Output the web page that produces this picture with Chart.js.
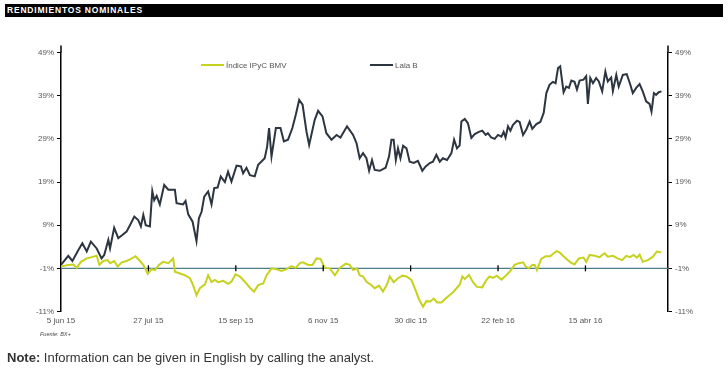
<!DOCTYPE html>
<html>
<head>
<meta charset="utf-8">
<script src="https://cdn.jsdelivr.net/npm/chart.js@4.4.1/dist/chart.umd.min.js"></script>
<style>
  body { margin: 0; width: 728px; height: 376px; background: #fff; position: relative; overflow: hidden;
         font-family: "Liberation Sans", Arial, sans-serif; }
  #title { position: absolute; left: 5px; top: 4px; width: 718px; height: 13px; background: #000; color: #fff;
           font-weight: bold; font-size: 8.5px; letter-spacing: 0.8px; line-height: 13px; padding-left: 2px; box-sizing: border-box; }
  #chart { position: absolute; left: 0; top: 0; }
  .leg { position: absolute; top: 61px; font-size: 8px; line-height: 10px; color: #555; white-space: nowrap; }
  .leg i { display: inline-block; width: 23px; height: 2px; vertical-align: middle; margin-right: 2px; position: relative; top: -1px; }
  #source { position: absolute; left: 40px; top: 331px; font-size: 5.5px; font-style: italic; color: #444; }
  #note { position: absolute; left: 7px; top: 351px; font-size: 13px; line-height: 14px; color: #333; }
</style>
</head>
<body>
<div id="title">RENDIMIENTOS NOMINALES</div>
<canvas id="chart" width="728" height="345"></canvas>
<div class="leg" style="left:201px"><i style="background:#c6d21e"></i>Índice IPyC BMV</div>
<div class="leg" style="left:370px"><i style="background:#2c3540"></i>Lala B</div>
<div id="source">Fuente: BX+</div>
<div id="note"><b>Note:</b> Information can be given in English by calling the analyst.</div>

<script>
// x = trading days since 5 jun 15, y = nominal return in %
const tickDays = [0, 36, 72, 108, 144, 180, 216];
const tickLabels = ["5 jun 15", "27 jul 15", "15 sep 15", "6 nov 15", "30 dic 15", "22 feb 16", "15 abr 16"];
const yTicks = [-11, -1, 9, 19, 29, 39, 49];

const lalaDays = [
  0, 3, 4.7, 7.1, 8.8, 10.6, 12.3, 14.7, 16.7, 17.8,
  19.5, 20.2, 21.9, 23.6, 25, 27, 28.4, 30.2, 31.8, 32.9,
  33.9, 34.9, 36.6, 37.6, 38.4, 39.4, 40.7, 42.5, 44.2, 46.9,
  47.6, 50.3, 51.3, 52.4, 54.2, 55.8, 56.8, 57.9, 59, 60.6,
  62, 63.1, 64.5, 65.8, 67.5, 68.8, 70.2, 72.3, 74.1, 75,
  76.4, 77.8, 79.8, 81.2, 83.9, 84.9, 85.7, 86.7, 88.5, 90.4,
  91.8, 93.5, 95.3, 96.7, 98.1, 99.5, 101.1, 102.2, 104.5, 105.9,
  107.7, 109.3, 111.4, 113.5, 115.1, 117.8, 120.3, 121.7, 123, 124.4,
  125.8, 126.9, 128.1, 129.2, 131.3, 133.7, 135.1, 136.1, 137, 137.9,
  138.8, 139.8, 140.9, 142.3, 143.6, 145.3, 147, 148.8, 150.2, 151.9,
  153.2, 154.6, 156, 157.3, 159, 160.8, 161.9, 163.1, 164.2, 164.9,
  166.3, 167.6, 169, 170.4, 172.1, 173.5, 174.9, 175.8, 177.2, 178.6,
  180, 181.4, 182.3, 183.1, 184.1, 185.1, 186.1, 187.8, 188.9, 190.3,
  191.6, 193, 194.1, 195.8, 197.4, 198.8, 199.9, 201.2, 202.6, 203.7,
  204.7, 205.6, 207, 208.1, 209.2, 210.2, 211.5, 212.5, 213.6, 215.2,
  216.3, 217, 218, 219.1, 220.4, 221.5, 222.9, 224.2, 225.2, 226.6,
  227.3, 228.7, 229.7, 231.4, 233, 234.4, 235.5, 236.9, 238.3, 239.6,
  241, 242.4, 243.2, 244.2, 245.1, 246.2, 247.3
];
const lalaValues = [
  -0.2, 1.9, 0.7, 3.2, 4.8, 2.9, 5.2, 3.6, 1.3, 2.1,
  5.6, 3.6, 8.4, 6.0, 6.6, 7.5, 9.0, 11.0, 10.2, 8.7,
  11.4, 9.0, 8.7, 16.9, 14.8, 15.8, 13.8, 18.3, 17.2, 17.2,
  14.1, 13.8, 14.6, 11.5, 9.8, 5.3, 10.6, 12.1, 15.6, 16.8,
  13.8, 17.6, 17.7, 20.3, 19.0, 21.4, 19.1, 22.8, 22.6, 21.0,
  22.3, 20.6, 20.3, 23.0, 24.5, 27.2, 31.5, 24.9, 31.5, 31.5,
  28.4, 28.8, 31.5, 34.6, 38.0, 36.9, 30.7, 27.6, 33.4, 35.5,
  34.2, 30.3, 28.8, 29.9, 29.3, 31.9, 29.9, 28.0, 24.5, 25.7,
  24.5, 21.6, 24.1, 21.8, 21.6, 22.3, 24.9, 28.8, 28.8, 24.1,
  26.8, 24.5, 27.4, 26.8, 23.7, 23.4, 23.9, 21.6, 22.6, 23.4,
  23.7, 25.3, 23.7, 24.5, 24.1, 25.7, 28.8, 26.8, 27.5, 33.0,
  33.6, 32.6, 29.2, 30.1, 30.6, 30.9, 29.9, 30.3, 29.3, 29.0,
  29.9, 29.5, 30.6, 29.3, 31.9, 30.9, 32.2, 33.2, 32.9, 29.9,
  31.1, 33.0, 31.3, 32.4, 32.9, 35.0, 39.6, 41.5, 42.2, 41.9,
  45.4, 45.8, 39.8, 41.1, 40.8, 42.5, 42.2, 40.4, 42.5, 42.7,
  43.5, 37.1, 43.1, 41.9, 43.1, 42.3, 40.0, 44.6, 42.3, 43.2,
  40.1, 43.8, 41.1, 43.8, 44.0, 41.7, 39.6, 40.8, 41.7, 40.0,
  37.7, 37.1, 35.3, 39.6, 39.2, 39.8, 40.0
];

const ipcDays = [
  0, 3, 5.1, 6.5, 8.2, 10.6, 12.6, 14.7, 15.8, 17.4,
  19.2, 20.2, 21.9, 23.3, 25, 27, 28.8, 30.7, 32.5, 33.9,
  35.7, 37.3, 38.7, 40.3, 42.1, 44.2, 46.2, 46.9, 49, 51,
  53.1, 54.4, 55.8, 57.2, 59.3, 60.6, 62, 63.4, 64.7, 66.8,
  68.8, 70.2, 71.9, 73.7, 75.7, 77.8, 79.5, 81.2, 83.3, 84.7,
  86.7, 88.8, 90.8, 92.9, 94.9, 96.7, 98.4, 99.7, 101.8, 103.6,
  105.2, 106.9, 108.6, 110.7, 112.8, 114.8, 117.3, 118.9, 120.3, 121.9,
  123, 124.4, 125.8, 127.4, 129.2, 131, 132.6, 134.3, 135.4, 137,
  138.8, 140.6, 142.3, 144.3, 145.7, 147.4, 149.1, 150.5, 152.1, 153.5,
  154.9, 156.7, 158.4, 160.1, 161.4, 163.1, 164.2, 165.3, 166.3, 168,
  169.7, 171.3, 173.5, 175.2, 176.5, 177.9, 179.5, 181.4, 183.4, 185.1,
  186.8, 188.6, 190.3, 191.4, 192.7, 194.1, 195.1, 196, 197.8, 199.6,
  201.5, 202.9, 204.2, 205.3, 206.7, 208.1, 209.8, 211.5, 213.3, 215.2,
  216.3, 217.7, 219.8, 221.8, 223.9, 225.2, 227.3, 229.3, 231.1, 232.8,
  234.4, 235.8, 237.2, 238.3, 239.6, 241.7, 243.8, 245.4, 247.2
];
const ipcValues = [
  -0.6, -0.2, -0.1, -0.9, 0.5, 1.3, 1.6, 1.9, -0.2, 0.7,
  0.9, 0.2, 0.7, -0.6, 0.4, 0.7, 1.2, 1.8, 0.7, -0.2,
  -2.3, -1.2, -1.4, -0.2, 0.5, 0.2, 1.3, -1.8, -2.2, -2.6,
  -3.3, -4.9, -7.2, -5.6, -4.7, -2.6, -4.2, -3.7, -4.2, -3.9,
  -4.6, -4.1, -2.4, -2.9, -4.1, -5.5, -6.4, -4.9, -4.5, -2.6,
  -1.0, -1.2, -1.6, -1.2, -0.5, -0.9, 0.2, 0.4, -0.2, -0.2,
  1.3, 1.2, -0.9, -1.0, -2.6, -0.9, 0.1, -0.2, -1.4, -1.0,
  -2.6, -2.9, -4.1, -4.7, -5.6, -5.0, -6.4, -4.7, -2.9, -4.2,
  -3.3, -2.7, -2.9, -3.7, -5.6, -8.1, -9.9, -8.6, -8.7, -8.0,
  -8.9, -8.9, -8.0, -7.2, -6.6, -5.5, -4.8, -2.9, -3.5, -2.5,
  -4.2, -5.3, -5.4, -3.7, -2.9, -3.2, -2.7, -3.6, -2.6, -1.6,
  -0.2, 0.2, 0.4, -0.6, -1.0, -0.2, -0.2, -1.4, 1.2, 1.8,
  1.8, 2.5, 3.0, 2.7, 1.9, 1.2, 0.4, -0.1, 1.3, 1.5,
  0.5, 2.1, 1.9, 1.6, 2.5, 1.7, 1.9, 1.3, 0.9, 1.9,
  1.6, 2.1, 1.5, 2.2, 0.5, 0.9, 1.7, 2.9, 2.7
];

const tickFont = { family: "'Liberation Sans', Arial, sans-serif", size: 8 };

// base line at -1% with small date ticks, and axis lines that run a bit above the plot
const baseLine = {
  id: "baseLine",
  beforeDatasetsDraw(chart) {
    const { ctx, chartArea, scales } = chart;
    const y = scales.y.getPixelForValue(-1);
    ctx.save();
    ctx.strokeStyle = "#4d7e8c";
    ctx.lineWidth = 1.2;
    ctx.beginPath();
    ctx.moveTo(chartArea.left, y);
    ctx.lineTo(chartArea.right, y);
    ctx.stroke();
    ctx.restore();
  },
  afterDatasetsDraw(chart) {
    const { ctx, chartArea, scales } = chart;
    const y = scales.y.getPixelForValue(-1);
    ctx.save();
    ctx.strokeStyle = "#000";
    ctx.lineWidth = 1.3;
    tickDays.slice(1).forEach(d => {
      const x = scales.x.getPixelForValue(d);
      ctx.beginPath();
      ctx.moveTo(x, y - 3);
      ctx.lineTo(x, y + 3);
      ctx.stroke();
    });
    ctx.lineWidth = 1.5;
    [chartArea.left, chartArea.right].forEach(x => {
      ctx.beginPath();
      ctx.moveTo(x, chartArea.top - 7);
      ctx.lineTo(x, chartArea.top);
      ctx.stroke();
    });
    ctx.restore();
  }
};

function yAxis(position, width) {
  return {
    position: position,
    min: -11,
    max: 49,
    afterBuildTicks: s => { s.ticks = yTicks.map(v => ({ value: v })); },
    afterFit: s => { s.width = width; },
    ticks: { font: tickFont, color: "#555", padding: 3, callback: v => v + "%" },
    grid: { drawOnChartArea: false, tickLength: 4, color: "#000", lineWidth: 1 },
    border: { color: "#000", width: 1.5 }
  };
}

new Chart(document.getElementById("chart"), {
  type: "line",
  data: {
    datasets: [
      {
        label: "Índice IPyC BMV",
        data: ipcDays.map((d, i) => ({ x: d, y: ipcValues[i] })),
        borderColor: "#c6d21e",
        borderWidth: 2,
        pointRadius: 0,
        tension: 0
      },
      {
        label: "Lala B",
        data: lalaDays.map((d, i) => ({ x: d, y: lalaValues[i] })),
        borderColor: "#2c3540",
        borderWidth: 2,
        pointRadius: 0,
        tension: 0
      }
    ]
  },
  options: {
    responsive: false,
    animation: false,
    layout: { padding: { top: 52.5, left: 0, right: 0, bottom: 0 } },
    plugins: { legend: { display: false }, tooltip: { enabled: false } },
    scales: {
      x: {
        type: "linear",
        min: 0,
        max: 250,
        afterBuildTicks: s => { s.ticks = tickDays.map(v => ({ value: v })); },
        afterFit: s => { s.height = 33.5; },
        ticks: {
          font: tickFont, color: "#555", padding: 4, autoSkip: false, maxRotation: 0,
          callback: v => tickLabels[tickDays.indexOf(v)]
        },
        grid: { display: false, drawTicks: false },
        border: { display: false }
      },
      y: yAxis("left", 61),
      y2: yAxis("right", 60)
    }
  },
  plugins: [baseLine]
});
</script>
</body>
</html>
